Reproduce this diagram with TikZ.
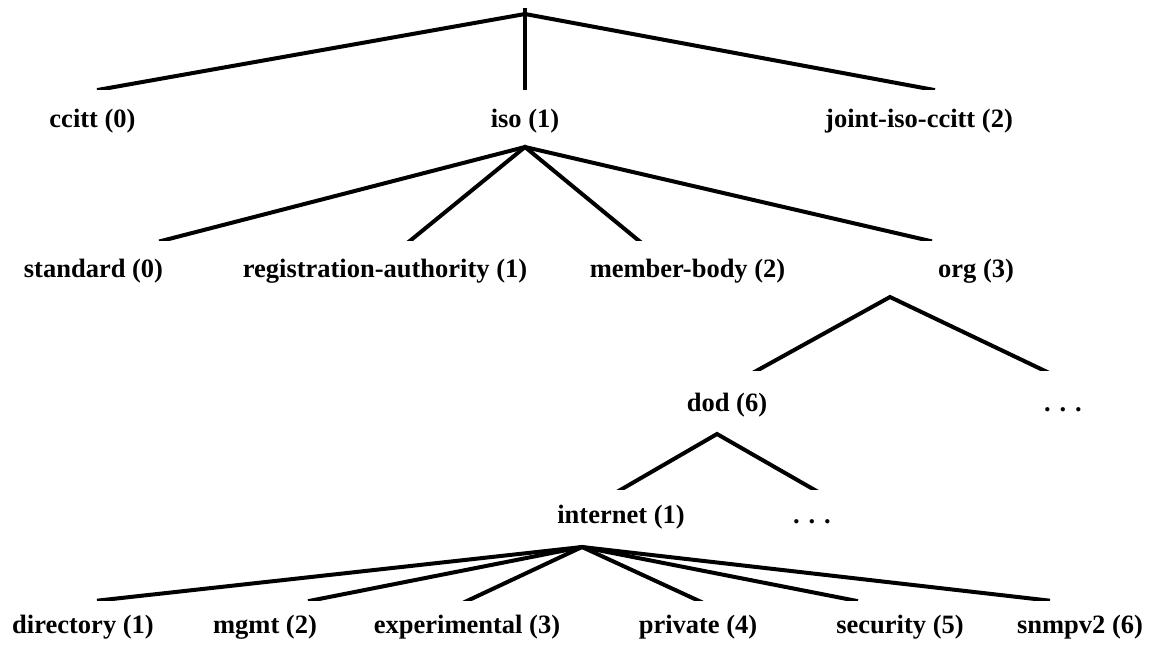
\documentclass[tikz,border=0pt]{standalone}
\usepackage{fontspec}
\setmainfont{Liberation Serif}
\begin{document}
\begin{tikzpicture}[x=0.5pt,y=-0.5pt,
  oidlabel/.style={font=\bfseries\fontsize{13.25}{15}\selectfont, inner sep=0pt, anchor=base},
  branch/.style={line width=2pt, line cap=butt, line join=miter,
                 shorten <=-3pt, shorten >=-3pt}]
\useasboundingbox (0,0) rectangle (1149,644);

% ---- branch points and line ends ----
\coordinate (root) at (525,14);
\coordinate (ccitt-in) at (103,89);
\coordinate (iso-in) at (525,89);
\coordinate (joint-in) at (929,89);

\coordinate (iso-out) at (525,147);
\coordinate (standard-in) at (165,240);
\coordinate (regauth-in) at (411,240);
\coordinate (member-in) at (638,240);
\coordinate (org-in) at (926,240);

\coordinate (org-out) at (890,297);
\coordinate (dod-in) at (758,370);
\coordinate (orgmore-in) at (1043,370);

\coordinate (dod-out) at (717,434);
\coordinate (internet-in) at (622,489);
\coordinate (dodmore-in) at (813,489);

\coordinate (internet-out) at (582,547);
\coordinate (directory-in) at (103,600);
\coordinate (mgmt-in) at (314,600);
\coordinate (experimental-in) at (469,600);
\coordinate (private-in) at (697,600);
\coordinate (security-in) at (852,600);
\coordinate (snmpv2-in) at (1044,600);

% ---- labels ----
\node[oidlabel] (ccitt) at (92.5,127) {ccitt (0)};
\node[oidlabel] (iso) at (525,127) {iso (1)};
\node[oidlabel] (joint) at (919,127) {joint-iso-ccitt (2)};

\node[oidlabel] (standard) at (93.5,277) {standard (0)};
\node[oidlabel] (regauth) at (385,277) {registration-authority (1)};
\node[oidlabel] (member) at (687.5,277) {member-body (2)};
\node[oidlabel] (org) at (976,277) {org (3)};

\node[oidlabel] (dod) at (727,411) {dod (6)};
\node[oidlabel] (orgmore) at (1063,411) {. . .};

\node[oidlabel] (internet) at (621,523) {internet (1)};
\node[oidlabel] (dodmore) at (812,523) {. . .};

\node[oidlabel] (directory) at (83,633) {directory (1)};
\node[oidlabel] (mgmt) at (265,633) {mgmt (2)};
\node[oidlabel] (experimental) at (467,633) {experimental (3)};
\node[oidlabel] (private) at (698,633) {private (4)};
\node[oidlabel] (security) at (900,633) {security (5)};
\node[oidlabel] (snmpv2) at (1080,633) {snmpv2 (6)};

% ---- branches, cut level at the child row ----
\begin{scope}
  \clip (0,0) rectangle (1149,89);
  \draw[branch] (ccitt-in) -- (root) -- (joint-in);
  \draw[branch] (root) -- (iso-in);
\end{scope}
\begin{scope}
  \clip (0,140) rectangle (1149,240);
  \draw[branch] (standard-in) -- (iso-out) -- (org-in);
  \draw[branch] (regauth-in) -- (iso-out) -- (member-in);
\end{scope}
\begin{scope}
  \clip (0,290) rectangle (1149,370);
  \draw[branch] (dod-in) -- (org-out) -- (orgmore-in);
\end{scope}
\begin{scope}
  \clip (0,427) rectangle (1149,489);
  \draw[branch] (internet-in) -- (dod-out) -- (dodmore-in);
\end{scope}
\begin{scope}
  \clip (0,540) rectangle (1149,600);
  \draw[branch] (directory-in) -- (internet-out) -- (snmpv2-in);
  \draw[branch] (mgmt-in) -- (internet-out) -- (security-in);
  \draw[branch] (experimental-in) -- (internet-out) -- (private-in);
\end{scope}
\end{tikzpicture}
\end{document}
